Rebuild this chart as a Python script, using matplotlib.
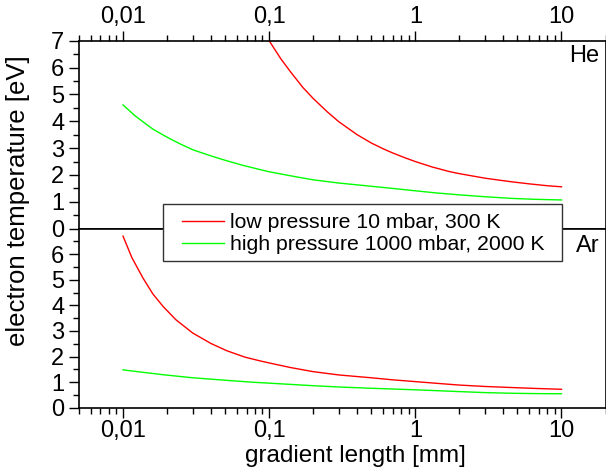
import matplotlib
matplotlib.use("Agg")
import matplotlib.pyplot as plt
from matplotlib.patches import Rectangle
from matplotlib.ticker import FixedLocator, FuncFormatter, LogLocator, NullFormatter

plt.rcParams['font.family'] = ['Liberation Sans', 'DejaVu Sans']

# He panel (top)
he_low_x = [0.1, 0.12, 0.14, 0.17, 0.2, 0.25, 0.3, 0.4, 0.5, 0.6, 0.7, 0.85,
            1.0, 1.3, 1.7, 2.0, 3.0, 4.5, 6.0, 8.0, 10]
he_low_y = [7.0, 6.33, 5.84, 5.26, 4.85, 4.35, 3.98, 3.50, 3.19, 2.98, 2.82, 2.64,
            2.50, 2.30, 2.13, 2.05, 1.88, 1.75, 1.67, 1.60, 1.56]
he_high_x = [0.01, 0.012, 0.0137, 0.016, 0.0188, 0.022, 0.025, 0.03, 0.04, 0.0512,
             0.065, 0.0867, 0.1, 0.15, 0.2, 0.3, 0.5, 0.7, 0.925, 1.4, 2.0, 3.0,
             4.5, 6.5, 10]
he_high_y = [4.61, 4.22, 3.98, 3.71, 3.49, 3.29, 3.14, 2.94, 2.71, 2.53,
             2.37, 2.20, 2.12, 1.94, 1.82, 1.70, 1.58, 1.50, 1.43, 1.33, 1.26, 1.19,
             1.13, 1.095, 1.07]

# Ar panel (bottom)
ar_low_x = [0.01, 0.0115, 0.0137, 0.016, 0.0188, 0.023, 0.03, 0.04, 0.0512, 0.068,
            0.0867, 0.1, 0.14, 0.2, 0.3, 0.5, 0.7, 1.0, 1.5, 2.0, 3.0, 4.5, 6.5, 10]
ar_low_y = [6.71, 5.87, 5.07, 4.45, 3.96, 3.44, 2.92, 2.51, 2.23, 1.98,
            1.83, 1.75, 1.57, 1.41, 1.28, 1.17, 1.09, 1.02, 0.94, 0.885, 0.83, 0.79, 0.755, 0.72]
ar_high_x = [0.01, 0.013, 0.0188, 0.03, 0.0512, 0.075, 0.1, 0.2, 0.3, 0.5, 1.0,
             2.0, 3.0, 4.5, 7.0, 10]
ar_high_y = [1.48, 1.40, 1.29, 1.17, 1.07, 1.00, 0.96, 0.86, 0.81, 0.76, 0.70,
             0.63, 0.59, 0.565, 0.55, 0.545]

labels = ["low pressure 10 mbar, 300 K", "high pressure 1000 mbar, 2000 K"]
colors = ["#ff0000", "#00ff00"]
xticks = [0.01, 0.1, 1, 10]
xticklabels = ["0,01", "0,1", "1", "10"]

FS = 17
W, H = 606, 470
fig = plt.figure(figsize=(W / 100, H / 100), dpi=100)
left = 79 / W
width = 526.5 / W
ax1 = fig.add_axes([left, (H - 228.7) / H, width, 188 / H])
ax2 = fig.add_axes([left, (H - 407.7) / H, width, 179 / H])

l1, = ax1.plot(he_low_x, he_low_y, color=colors[0], lw=1.0)
l2, = ax1.plot(he_high_x, he_high_y, color=colors[1], lw=1.0)
ax2.plot(ar_low_x, ar_low_y, color=colors[0], lw=1.0)
ax2.plot(ar_high_x, ar_high_y, color=colors[1], lw=1.0)

fmt = FuncFormatter(lambda v, p: xticklabels[xticks.index(v)] if v in xticks else "")
for ax in (ax1, ax2):
    ax.set_xscale('log')
    ax.set_xlim(0.005, 20)
    ax.set_ylim(0, 7)
    ax.xaxis.set_major_locator(FixedLocator(xticks))
    ax.xaxis.set_major_formatter(fmt)
    ax.xaxis.set_minor_locator(LogLocator(base=10, subs=range(2, 10)))
    ax.xaxis.set_minor_formatter(NullFormatter())
    ax.tick_params(which='both', direction='out', width=1.0, labelsize=FS)
    ax.tick_params(which='major', length=7)
    ax.tick_params(which='minor', length=4)
    for s in ax.spines.values():
        s.set_linewidth(1.2)
    ax.tick_params(axis='y', right=False)

ax1.set_yticks(range(0, 8))
ax1.set_yticks([i + 0.5 for i in range(0, 7)], minor=True)
ax1.tick_params(axis='x', which='both', top=True, bottom=False, labeltop=True, labelbottom=False)
ax1.tick_params(axis='x', pad=2)

ax2.set_yticks(range(0, 7))
ax2.set_yticks([i + 0.5 for i in range(0, 7)], minor=True)
ax2.tick_params(axis='x', which='both', top=False, bottom=True, labelbottom=True)
ax2.tick_params(axis='x', pad=2)

fig.text(355 / W, 1 - 456 / H, "gradient length [mm]", ha='center', va='center', fontsize=17.5)
fig.text(18.5 / W, 1 - 200.5 / H, "electron temperature [eV]",
         rotation=90, ha='center', va='center', fontsize=18.5)

ax1.text(0.988, 0.92, "He", transform=ax1.transAxes, ha='right', va='center', fontsize=FS)
ax2.text(0.988, 0.905, "Ar", transform=ax2.transAxes, ha='right', va='center', fontsize=FS)

# legend frame drawn as a rectangle, entries via a frameless legend
frame = Rectangle((163.3 / W, 1 - 261 / H), (562.3 - 163.3) / W, (261 - 204) / H,
                  transform=fig.transFigure, facecolor='white', edgecolor='#333333',
                  linewidth=1.0, zorder=9)
fig.patches.append(frame)
leg = fig.legend([l1, l2], labels, loc='upper left', bbox_to_anchor=(181.7 / W, 1 - 213 / H),
                 bbox_transform=fig.transFigure, fontsize=15.3, frameon=False,
                 handlelength=2.0, handletextpad=0.28, borderpad=0, labelspacing=0.15,
                 borderaxespad=0)
leg.set_zorder(10)

fig.savefig("out.png", dpi=100)
